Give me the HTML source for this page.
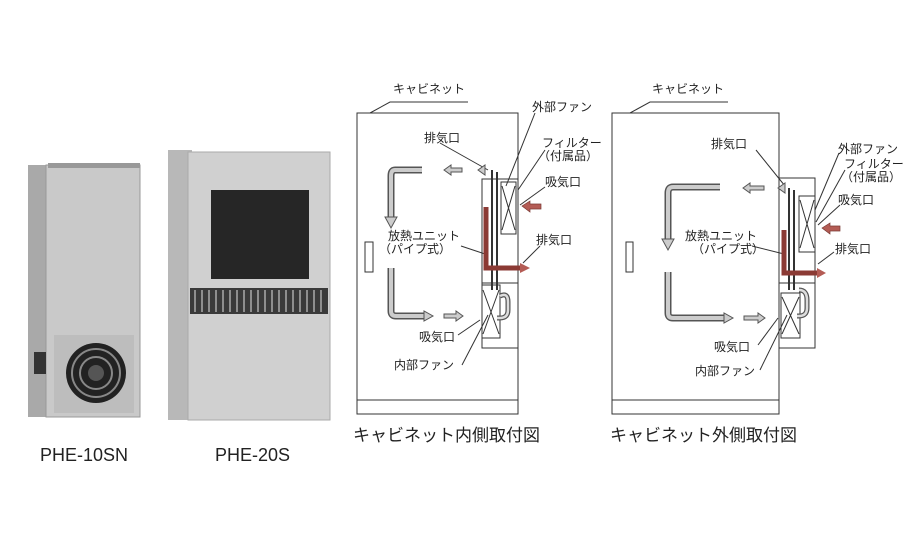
<!DOCTYPE html>
<html><head><meta charset="utf-8"><style>
html,body{margin:0;padding:0;background:#fff;width:920px;height:548px;overflow:hidden}
svg text{font-family:"Liberation Sans","Noto Sans CJK JP",sans-serif;fill:#222}
</style></head><body>
<svg width="920" height="548" viewBox="0 0 920 548" xmlns="http://www.w3.org/2000/svg">
<!-- PHE-10SN -->
<rect x="28" y="165" width="22" height="252" fill="#a9a9a9"/>
<rect x="46" y="165" width="94" height="252" fill="#c9c9c9" stroke="#999"/>
<rect x="48" y="163" width="92" height="5" fill="#999"/>
<rect x="54" y="335" width="80" height="78" fill="#bdbdbd"/>
<circle cx="96" cy="373" r="30" fill="#222"/>
<circle cx="96" cy="373" r="24" fill="none" stroke="#888" stroke-width="2"/>
<circle cx="96" cy="373" r="16" fill="none" stroke="#888" stroke-width="2"/>
<circle cx="96" cy="373" r="8" fill="#555"/>
<rect x="34" y="352" width="12" height="22" fill="#333"/>
<text x="40" y="461" font-size="18">PHE-10SN</text>
<!-- PHE-20S -->
<rect x="168" y="150" width="24" height="270" fill="#b8b8b8"/>
<rect x="188" y="152" width="142" height="268" fill="#d0d0d0" stroke="#aaa"/>
<rect x="211" y="190" width="98" height="89" fill="#262626"/>
<rect x="190" y="288" width="138" height="26" fill="#3a3a3a"/>
<g stroke="#aaa" stroke-width="1.5">
<line x1="195" y1="290" x2="195" y2="312"/><line x1="202" y1="290" x2="202" y2="312"/><line x1="209" y1="290" x2="209" y2="312"/><line x1="216" y1="290" x2="216" y2="312"/><line x1="223" y1="290" x2="223" y2="312"/><line x1="230" y1="290" x2="230" y2="312"/><line x1="237" y1="290" x2="237" y2="312"/><line x1="244" y1="290" x2="244" y2="312"/><line x1="251" y1="290" x2="251" y2="312"/><line x1="258" y1="290" x2="258" y2="312"/><line x1="265" y1="290" x2="265" y2="312"/><line x1="272" y1="290" x2="272" y2="312"/><line x1="279" y1="290" x2="279" y2="312"/><line x1="286" y1="290" x2="286" y2="312"/><line x1="293" y1="290" x2="293" y2="312"/><line x1="300" y1="290" x2="300" y2="312"/><line x1="307" y1="290" x2="307" y2="312"/><line x1="314" y1="290" x2="314" y2="312"/><line x1="321" y1="290" x2="321" y2="312"/>
</g>
<text x="215" y="461" font-size="18">PHE-20S</text>

<!-- Diagram 1 -->
<g fill="none" stroke="#333" stroke-width="1">
<rect x="357" y="113" width="161" height="301"/>
<line x1="357" y1="400" x2="518" y2="400"/>
<rect x="365" y="242" width="8" height="30"/>
<polyline points="370,113 390,102 468,102"/>
<rect x="482" y="179" width="36" height="169"/>
<line x1="482" y1="283" x2="518" y2="283"/>
<rect x="501" y="182" width="15" height="52"/>
<path d="M502 186 L515 230 M515 186 L502 230"/>
<rect x="482" y="285" width="18" height="53"/>
<path d="M483 290 L499 334 M499 290 L483 334"/>
<line x1="492" y1="170" x2="492" y2="290" stroke-width="2"/>
<line x1="497" y1="172" x2="497" y2="290" stroke-width="2"/>
<line x1="440" y1="143" x2="488" y2="170"/>
<line x1="535" y1="113" x2="506" y2="186"/>
<line x1="545" y1="150" x2="518" y2="190"/>
<line x1="545" y1="187" x2="520" y2="205"/>
<line x1="540" y1="246" x2="523" y2="263"/>
<line x1="461" y1="246" x2="488" y2="255"/>
<line x1="458" y1="335" x2="480" y2="320"/>
<line x1="462" y1="365" x2="488" y2="315"/>
</g>
<path d="M486 207 V268 H522" fill="none" stroke="#8b3a34" stroke-width="5"/>
<polygon points="520,263 530,268 520,273" fill="#b45c55"/>
<polygon points="522,206 530,201 530,204 541,204 541,209 530,209 530,212" fill="#b45c55" stroke="#7a3a35" stroke-width=".7"/>
<g fill="none" stroke-linejoin="round">
<path d="M422 170 H395 Q391 170 391 176 V218" stroke="#555" stroke-width="7"/>
<path d="M422 170 H395 Q391 170 391 176 V218" stroke="#ccc" stroke-width="4"/>
<path d="M391 268 V311 Q391 316 396 316 H425" stroke="#555" stroke-width="7"/>
<path d="M391 268 V311 Q391 316 396 316 H425" stroke="#ccc" stroke-width="4"/>
<path d="M500 296 Q508 292 508 302 V310 Q508 318 500 318 H497" stroke="#555" stroke-width="5"/>
<path d="M500 296 Q508 292 508 302 V310 Q508 318 500 318 H497" stroke="#ddd" stroke-width="2.5"/>
</g>
<g fill="#ccc" stroke="#555" stroke-width="1">
<polygon points="385,217 397,217 391,228"/>
<polygon points="424,311 424,321 433,316"/>
<polygon points="444,170 451,165 451,168 462,168 462,172 451,172 451,175"/>
<polygon points="463,316 456,311 456,314 444,314 444,318 456,318 456,321"/>
<polygon points="478,170 485,165 485,175"/>
</g>
<g font-size="12">
<text x="393" y="93">キャビネット</text>
<text x="424" y="142">排気口</text>
<text x="532" y="111">外部ファン</text>
<text x="542" y="147">フィルター</text>
<text x="538" y="160">（付属品）</text>
<text x="545" y="186">吸気口</text>
<text x="536" y="244">排気口</text>
<text x="388" y="240">放熱ユニット</text>
<text x="379" y="253">（パイプ式）</text>
<text x="419" y="341">吸気口</text>
<text x="394" y="369">内部ファン</text>
</g>
<text x="353" y="441" font-size="17">キャビネット内側取付図</text>

<!-- Diagram 2 -->
<g fill="none" stroke="#333" stroke-width="1">
<rect x="612" y="113" width="167" height="301"/>
<line x1="612" y1="400" x2="779" y2="400"/>
<rect x="626" y="242" width="7" height="30"/>
<polyline points="630,113 650,102 728,102"/>
<rect x="779" y="178" width="36" height="170"/>
<line x1="779" y1="283" x2="815" y2="283"/>
<rect x="799" y="196" width="16" height="56"/>
<path d="M800 200 L814 248 M814 200 L800 248"/>
<rect x="781" y="293" width="19" height="45"/>
<path d="M782 297 L799 334 M799 297 L782 334"/>
<line x1="789" y1="188" x2="789" y2="290" stroke-width="2"/>
<line x1="794" y1="190" x2="794" y2="290" stroke-width="2"/>
<line x1="756" y1="150" x2="785" y2="186"/>
<line x1="839" y1="153" x2="815" y2="210"/>
<line x1="845" y1="170" x2="816" y2="222"/>
<line x1="840" y1="205" x2="818" y2="225"/>
<line x1="834" y1="252" x2="818" y2="264"/>
<line x1="752" y1="246" x2="784" y2="254"/>
<line x1="758" y1="345" x2="778" y2="318"/>
<line x1="760" y1="370" x2="787" y2="315"/>
</g>
<path d="M784 230 V273 H818" fill="none" stroke="#8b3a34" stroke-width="5"/>
<polygon points="817,268 826,273 817,278" fill="#b45c55"/>
<polygon points="822,228 830,223 830,226 840,226 840,231 830,231 830,234" fill="#b45c55" stroke="#7a3a35" stroke-width=".7"/>
<g fill="none" stroke-linejoin="round">
<path d="M720 187 H673 Q668 187 668 193 V240" stroke="#555" stroke-width="7"/>
<path d="M720 187 H673 Q668 187 668 193 V240" stroke="#ccc" stroke-width="4"/>
<path d="M668 272 V313 Q668 318 673 318 H725" stroke="#555" stroke-width="7"/>
<path d="M668 272 V313 Q668 318 673 318 H725" stroke="#ccc" stroke-width="4"/>
<path d="M799 290 Q807 290 807 300 V308 Q807 316 799 316 H797" stroke="#555" stroke-width="5"/>
<path d="M799 290 Q807 290 807 300 V308 Q807 316 799 316 H797" stroke="#ddd" stroke-width="2.5"/>
</g>
<g fill="#ccc" stroke="#555" stroke-width="1">
<polygon points="662,239 674,239 668,250"/>
<polygon points="724,313 724,323 733,318"/>
<polygon points="743,188 750,183 750,186 764,186 764,190 750,190 750,193"/>
<polygon points="765,318 758,313 758,316 744,316 744,320 758,320 758,323"/>
<polygon points="778,188 785,183 785,193"/>
</g>
<g font-size="12">
<text x="652" y="93">キャビネット</text>
<text x="711" y="148">排気口</text>
<text x="838" y="153">外部ファン</text>
<text x="844" y="168">フィルター</text>
<text x="841" y="181">（付属品）</text>
<text x="838" y="204">吸気口</text>
<text x="835" y="253">排気口</text>
<text x="685" y="240">放熱ユニット</text>
<text x="692" y="253">（パイプ式）</text>
<text x="714" y="351">吸気口</text>
<text x="695" y="375">内部ファン</text>
</g>
<text x="610" y="441" font-size="17">キャビネット外側取付図</text>
</svg>
</body></html>
